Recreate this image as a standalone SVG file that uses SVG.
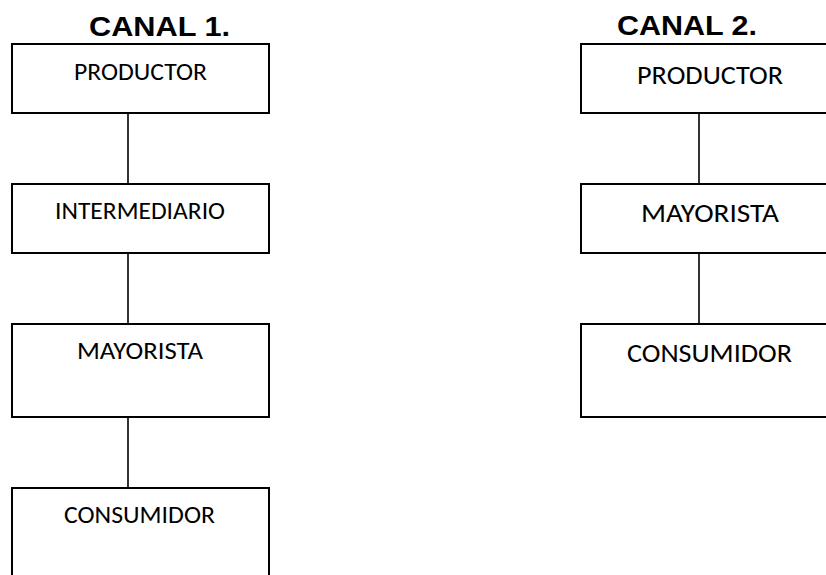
<svg xmlns="http://www.w3.org/2000/svg" width="826" height="575" viewBox="0 0 826 575">
<style>
.box{fill:#fff;stroke:#000;stroke-width:2}
.lbl{font-family:Carlito,"Open Sans","Liberation Sans",sans-serif;font-size:25px;fill:#000;text-anchor:start}
.lbl2{font-family:Carlito,"Open Sans","Liberation Sans",sans-serif;font-size:27px;fill:#000;text-anchor:start}
.title{font-family:"Liberation Sans",Arial,sans-serif;font-weight:bold;font-size:28px;fill:#000}
.conn{stroke:#000;stroke-width:1.6;fill:none}
</style>
<rect width="826" height="575" fill="#fff"/>
<text class="title" x="89" y="36" textLength="141" lengthAdjust="spacingAndGlyphs">CANAL 1.</text>
<text class="title" x="617" y="35" textLength="140" lengthAdjust="spacingAndGlyphs">CANAL 2.</text>
<g id="connectors">
<line class="conn" x1="128" y1="113" x2="128" y2="184"/>
<line class="conn" x1="128" y1="253" x2="128" y2="324"/>
<line class="conn" x1="128" y1="417" x2="128" y2="488"/>
<line class="conn" x1="699" y1="113" x2="699" y2="184"/>
<line class="conn" x1="699" y1="253" x2="699" y2="324"/>
</g>
<g id="c1-productor"><rect class="box" x="12" y="44" width="257" height="69"/><text class="lbl" x="74" y="80" textLength="133" lengthAdjust="spacingAndGlyphs">PRODUCTOR</text></g>
<g id="c1-intermediario"><rect class="box" x="12" y="184" width="257" height="69"/><text class="lbl" x="55" y="219" textLength="170" lengthAdjust="spacingAndGlyphs">INTERMEDIARIO</text></g>
<g id="c1-mayorista"><rect class="box" x="12" y="324" width="257" height="93"/><text class="lbl" x="77" y="359" textLength="126" lengthAdjust="spacingAndGlyphs">MAYORISTA</text></g>
<g id="c1-consumidor"><rect class="box" x="12" y="488" width="257" height="110"/><text class="lbl" x="64" y="523" textLength="151" lengthAdjust="spacingAndGlyphs">CONSUMIDOR</text></g>
<g id="c2-productor"><rect class="box" x="581" y="44" width="260" height="69"/><text class="lbl2" x="637" y="84" textLength="146" lengthAdjust="spacingAndGlyphs">PRODUCTOR</text></g>
<g id="c2-mayorista"><rect class="box" x="581" y="184" width="260" height="69"/><text class="lbl2" x="641" y="222" textLength="138" lengthAdjust="spacingAndGlyphs">MAYORISTA</text></g>
<g id="c2-consumidor"><rect class="box" x="581" y="324" width="260" height="93"/><text class="lbl2" x="627" y="362" textLength="165" lengthAdjust="spacingAndGlyphs">CONSUMIDOR</text></g>
</svg>
